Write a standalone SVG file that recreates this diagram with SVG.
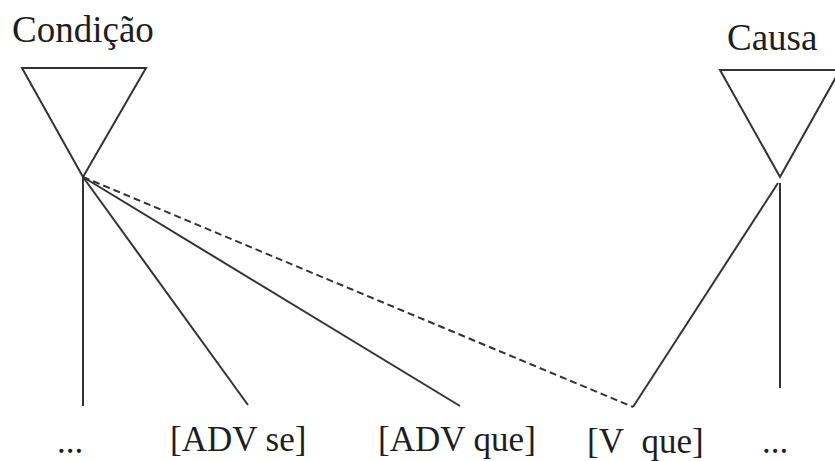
<svg xmlns="http://www.w3.org/2000/svg" width="835" height="461" viewBox="0 0 835 461">
<style>
.t{font-family:"Liberation Serif","DejaVu Serif","Times New Roman",serif;fill:#1e1e1e}
.big{font-size:37px}
.lab{font-size:35px}
.ln{stroke:#333;stroke-width:2;fill:none}
.dash{stroke-dasharray:7 4}
</style>
<rect width="835" height="461" fill="#fff"/>
<g id="condicao">
<text class="t big" x="12" y="42">Condição</text>
<polygon class="ln" points="22,68 146,68 83,177"/>
</g>
<g id="causa">
<text class="t big" x="727" y="50">Causa</text>
<polygon class="ln" points="720,70 840,70 780,177"/>
</g>
<g id="n-dots1"><text class="t lab" x="57" y="453">...</text></g>
<g id="n-advse"><text class="t lab" x="170" y="451">[ADV se]</text></g>
<g id="n-advque"><text class="t lab" x="378" y="451">[ADV que]</text></g>
<g id="n-vque"><text class="t lab" x="587" y="453" xml:space="preserve">[V&#160; que]</text></g>
<g id="n-dots2"><text class="t lab" x="762" y="453">...</text></g>
<g id="connectors">
<line class="ln" x1="83" y1="177" x2="83" y2="406"/>
<line class="ln" x1="83" y1="177" x2="248" y2="405"/>
<line class="ln" x1="83" y1="177" x2="460" y2="406"/>
<line class="ln dash" x1="83" y1="177" x2="633" y2="407"/>
<line class="ln" x1="778" y1="183" x2="633" y2="407"/>
<line class="ln" x1="780" y1="183" x2="780" y2="388"/>
</g>
</svg>
